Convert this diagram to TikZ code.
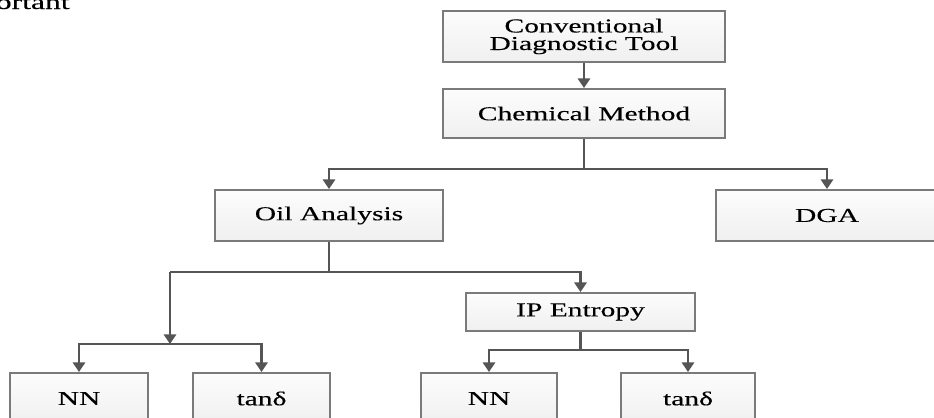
\documentclass[tikz,border=0pt]{standalone}
\usepackage{fontspec}
\setmainfont{Liberation Serif}[FakeStretch=1.5,FakeBold=0.25]
\usetikzlibrary{arrows.meta}
\definecolor{linegray}{HTML}{555555}
\definecolor{boxgray}{HTML}{7A7A7A}

\begin{document}
\begin{tikzpicture}[x=0.02cm,y=-0.02cm,font=\fontsize{11.2}{10}\selectfont,
  box/.style={draw=boxgray, line width=1.1pt, top color=gray!2, bottom color=gray!12,
    align=center, inner sep=2pt, minimum height=1.02cm},
  link/.style={draw=linegray, line width=1.3pt},
  arr/.style={link, -{Triangle[width=7pt,length=5.5pt]}}]
\useasboundingbox (0,0) rectangle (934,417);

% page text cut by the top edge
\node[anchor=base east, inner sep=0pt, font=\fontsize{12}{14}\selectfont] (txt) at (70,9) {portant};

% upper levels
\node[box, minimum width=5.64cm] (conv) at (584,36.5) {Conventional\\Diagnostic Tool};
\node[box, minimum width=5.64cm, minimum height=0.98cm] (chem) at (584,113.5) {Chemical Method};
\node[box, minimum width=4.56cm] (oil) at (329,215.5) {Oil Analysis};
\node[box, minimum width=4.44cm] (dga) at (827,215.5) {DGA};
\node[box, minimum width=4.58cm, minimum height=0.76cm] (ip) at (580.5,312) {IP Entropy};

% bottom row
\node[box, anchor=north, minimum width=2.76cm] (nn1) at (79,372) {NN};
\node[box, anchor=north, minimum width=2.74cm] (tan1) at (261.5,372) {tanδ};
\node[box, anchor=north, minimum width=2.72cm] (nn2) at (489,372) {NN};
\node[box, anchor=north, minimum width=2.68cm] (tan2) at (688,372) {tanδ};

% junctions
\coordinate (a) at (584,169);
\coordinate (b) at (329,272);
\coordinate (c) at (170,272);
\coordinate (d) at (170,344);
\coordinate (e) at (580.5,350);

\draw[arr] (conv) -- (chem);
\draw[link] (chem) -- (a);
\draw[arr] (a) -| (oil.north);
\draw[arr] (a) -| (dga.north);

\draw[link] (oil) -- (b);
\draw[arr] (c) -| (ip.north);
\draw[arr] (c) -- (d);
\draw[arr] (d) -| (nn1.north);
\draw[arr] (d) -| (tan1.north);

\draw[link] (ip) -- (e);
\draw[arr] (e) -| (nn2.north);
\draw[arr] (e) -| (tan2.north);

\end{tikzpicture}
\end{document}
